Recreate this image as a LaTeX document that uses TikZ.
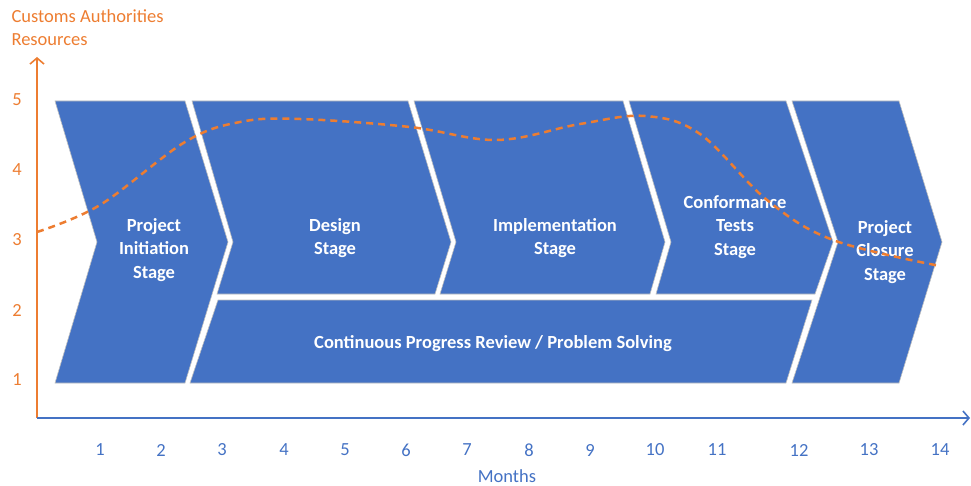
\documentclass[tikz,border=0pt]{standalone}
\usepackage{fontspec}
\setmainfont{Carlito}
\usepackage{xcolor}
\usepackage{tikz}
\usetikzlibrary{arrows.meta}
\definecolor{stageblue}{HTML}{4472C4}
\definecolor{resorange}{HTML}{ED7D31}

\begin{document}
\begin{tikzpicture}[x=1pt,y=-1pt,
    stage/.style={fill=stageblue,draw=white!75!black,line width=0.6pt},
    stagetext/.style={text=white,font=\fontsize{18.5}{23.5}\selectfont\bfseries,align=center},
    ytick/.style={text=resorange,font=\fontsize{18.5}{22}\selectfont},
    xtick/.style={text=stageblue,font=\fontsize{18.5}{22}\selectfont}]
    		\useasboundingbox (0,0) rectangle (971,486);
    		\coordinate (O) at (37,418);
    		\coordinate (ytop) at (37,57);
    		\coordinate (xend) at (970,418);
    		% stages
    		\draw[stage] (55,101) -- (185,101) -- (228,242) -- (185,383) -- (55,383) -- (97,242) -- cycle;
    		\draw[stage] (192,101) -- (408,101) -- (451,242) -- (435,294) -- (217,294) -- (233,242) -- cycle;
    		\draw[stage] (414,101) -- (623,101) -- (665,242) -- (650,294) -- (440,294) -- (456,242) -- cycle;
    		\draw[stage] (629,101) -- (786,101) -- (833,242) -- (815,294) -- (656,294) -- (671,242) -- cycle;
    		\draw[stage] (218,300) -- (812,300) -- (786,383) -- (190,383) -- cycle;
    		\draw[stage] (792,101) -- (899,101) -- (942,242) -- (899,383) -- (792,383) -- (838,242) -- cycle;
    		\node[stagetext] (init) at (154,250) {Project\\Initiation\\Stage};
    		\node[stagetext] (des) at (335,238) {Design\\Stage};
    		\node[stagetext] (impl) at (555,238) {Implementation\\Stage};
    		\node[stagetext] (conf) at (735,227) {Conformance\\Tests\\Stage};
    		\node[stagetext] (clos) at (885,252) {Project\\Closure\\Stage};
    		\node[stagetext] (rev) at (493,344) {Continuous Progress Review / Problem Solving};
    		% resources curve
    		\draw[resorange,line width=2.5pt,dash pattern=on 7pt off 5pt] plot[smooth,tension=0.6] coordinates {(37,232) (100,205) (185,142) (240,122) (300,119) (410,127) (497,140) (580,124) (645,116) (700,134) (767,200) (833,240) (940,266)};
    		% axes
    		\draw[resorange,line width=1.6pt,-{Straight Barb[length=6pt,width=14pt]}] (O) -- (ytop);
    		\draw[stageblue,line width=1.6pt,-{Straight Barb[length=6pt,width=14pt]}] (O) -- (xend);
    		\node[ytick,anchor=west] (t1) at (8,16) {Customs Authorities};
    		\node[ytick,anchor=west] (t2) at (8,40) {Resources};
    		\node[ytick] (y5) at (17,100) {5};
    		\node[ytick] (y4) at (17,170) {4};
    		\node[ytick] (y3) at (17,240) {3};
    		\node[ytick] (y2) at (17,310) {2};
    		\node[ytick] (y1) at (17,380) {1};
    		\node[xtick] (m1) at (100,450) {1};
    		\node[xtick] (m2) at (161,450) {2};
    		\node[xtick] (m3) at (222,450) {3};
    		\node[xtick] (m4) at (284,450) {4};
    		\node[xtick] (m5) at (345,450) {5};
    		\node[xtick] (m6) at (406,450) {6};
    		\node[xtick] (m7) at (467,450) {7};
    		\node[xtick] (m8) at (529,450) {8};
    		\node[xtick] (m9) at (590,450) {9};
    		\node[xtick] (m10) at (655,450) {10};
    		\node[xtick] (m11) at (717,450) {11};
    		\node[xtick] (m12) at (799,450) {12};
    		\node[xtick] (m13) at (869,450) {13};
    		\node[xtick] (m14) at (940,450) {14};
    		\node[xtick] (mon) at (507,476) {Months};
\end{tikzpicture}
\end{document}
